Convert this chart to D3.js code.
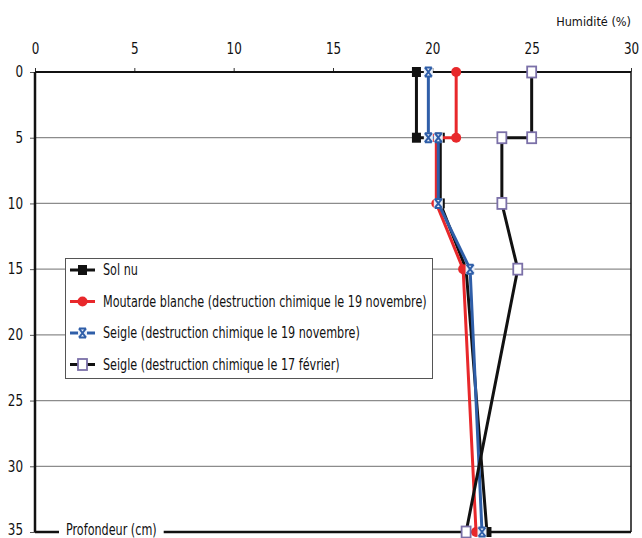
<!DOCTYPE html>
<html><head><meta charset="utf-8">
<script src="https://cdn.jsdelivr.net/npm/d3@7/dist/d3.min.js"></script>
<style>body{margin:0;background:#fff}svg{display:block}text{font-family:"DejaVu Sans Condensed","DejaVu Sans",sans-serif;font-stretch:condensed;fill:#111}</style>
</head><body><svg id="c" width="642" height="538"></svg>
<script>
const xTicks = [0, 5, 10, 15, 20, 25, 30];
const yTicks = [0, 5, 10, 15, 20, 25, 30, 35];
const solNu = [[19.2,0],[19.2,5],[20.4,5],[20.4,10],[21.7,15],[22.75,35]];
const moutarde = [[21.2,0],[21.2,5],[20.2,5],[20.2,10],[21.55,15],[22.2,35]];
const seigleNov = [[19.8,0],[19.8,5],[20.3,5],[20.3,10],[21.9,15],[22.5,35]];
const seigleFev = [[25,0],[25,5],[23.5,5],[23.5,10],[24.3,15],[21.7,35]];
const seriesNames = ["Sol nu","Moutarde blanche (destruction chimique le 19 novembre)","Seigle (destruction chimique le 19 novembre)","Seigle (destruction chimique le 17 février)"];

const svg = d3.select("#c");
const x = d3.scaleLinear().domain([0,30]).range([35,631]);
const y = d3.scaleLinear().domain([0,35]).range([72,532]);

// grid
svg.append("g").selectAll("line").data(yTicks.filter(d=>d>0&&d<35)).join("line")
  .attr("x1",x(0)).attr("x2",x(30)).attr("y1",d=>y(d)).attr("y2",d=>y(d))
  .attr("stroke","#8c8c8c").attr("stroke-width",1.3);

// top axis
const gx = svg.append("g").attr("transform",`translate(0,${y(0)})`)
  .call(d3.axisTop(x).tickValues(xTicks).tickSize(4).tickPadding(14).tickFormat(d3.format("d")));
gx.select(".domain").remove();
gx.selectAll("line").attr("stroke","#333");
gx.selectAll("text").attr("font-size",16);
svg.append("line").attr("x1",x(0)).attr("x2",x(30)).attr("y1",y(0)).attr("y2",y(0)).attr("stroke","#111").attr("stroke-width",2.2);

// left axis
const gy = svg.append("g").attr("transform",`translate(${x(0)},0)`)
  .call(d3.axisLeft(y).tickValues(yTicks).tickSize(5).tickPadding(7).tickFormat(d3.format("d")));
gy.select(".domain").remove();
gy.selectAll("line").attr("stroke","#555");
gy.selectAll("text").attr("font-size",16).attr("dy","0.3em");
gy.selectAll("text").filter(d=>d===35).attr("dy","0.18em");
svg.append("line").attr("x1",x(0)).attr("x2",x(0)).attr("y1",y(0)).attr("y2",y(35)).attr("stroke","#111").attr("stroke-width",2.5);
svg.append("line").attr("x1",x(30)).attr("x2",x(30)).attr("y1",y(0)).attr("y2",y(35)).attr("stroke","#111").attr("stroke-width",1.5);
svg.append("line").attr("x1",x(0)).attr("x2",x(30)).attr("y1",y(35)).attr("y2",y(35)).attr("stroke","#111").attr("stroke-width",2.5);

// bottom label
const lblG = svg.append("g");
const lblBg = lblG.append("rect").attr("fill","#fff");
const lbl = lblG.append("text").attr("x",66).attr("y",y(35)+3).attr("font-size",15).text("Profondeur (cm)");

const line = d3.line().x(d=>x(d[0])).y(d=>y(d[1]));
const styles = [
  {data:solNu, color:"#111", marker:"sq"},
  {data:moutarde, color:"#e8282b", marker:"circle"},
  {data:seigleNov, color:"#2f5ea8", marker:"x"},
  {data:seigleFev, color:"#111", marker:"osq"}
];
function marker(g, type, cx, cy, color){
  if(type==="sq") g.append("rect").attr("x",cx-4.5).attr("y",cy-5).attr("width",9).attr("height",10).attr("fill","#111");
  else if(type==="circle") g.append("circle").attr("cx",cx).attr("cy",cy).attr("r",5).attr("fill",color);
  else if(type==="x"){
    g.append("rect").attr("x",cx-4.5).attr("y",cy-5).attr("width",9).attr("height",10).attr("fill","#e8eef8");
    g.append("path").attr("d",`M${cx-3.5},${cy-4.5}L${cx+3.5},${cy+4.5}M${cx+3.5},${cy-4.5}L${cx-3.5},${cy+4.5}M${cx-3.5},${cy-4.5}H${cx+3.5}M${cx-3.5},${cy+4.5}H${cx+3.5}`)
      .attr("stroke",color).attr("stroke-width",2).attr("fill","none");
  } else {
    g.append("rect").attr("x",cx-4.5).attr("y",cy-5.5).attr("width",9).attr("height",11).attr("fill","#fff").attr("stroke","#7b70a8").attr("stroke-width",1.8);
  }
}
styles.forEach(s=>{
  const g = svg.append("g");
  g.append("path").datum(s.data).attr("d",line).attr("fill","none").attr("stroke",s.color).attr("stroke-width",3);
  s.data.forEach(d=>marker(g,s.marker,x(d[0]),y(d[1]),s.color));
});

// legend
const lg = svg.append("g");
lg.append("rect").attr("x",65.5).attr("y",258.5).attr("width",367).attr("height",120).attr("fill","#fff").attr("stroke","#555").attr("stroke-width",1);
const ly = [270, 301.5, 333, 364.5];
styles.forEach((s,i)=>{
  lg.append("line").attr("x1",70).attr("x2",95).attr("y1",ly[i]).attr("y2",ly[i]).attr("stroke",s.color).attr("stroke-width",3);
  marker(lg,s.marker,82.5,ly[i],s.color);
  lg.append("text").attr("x",103).attr("y",ly[i]+5).attr("font-size",15).text(seriesNames[i]);
});

// condense all text horizontally
svg.selectAll("text").each(function(){
  const len = this.getComputedTextLength();
  d3.select(this).attr("textLength", len*0.83).attr("lengthAdjust","spacingAndGlyphs");
});
const bb = lbl.node().getBBox();
lblBg.attr("x",bb.x-7).attr("y",y(35)-3).attr("width",bb.width+14).attr("height",6);

svg.append("text").attr("x",631).attr("y",26).attr("text-anchor","end").attr("font-size",12.6).text("Humidité (%)");
</script></body></html>
